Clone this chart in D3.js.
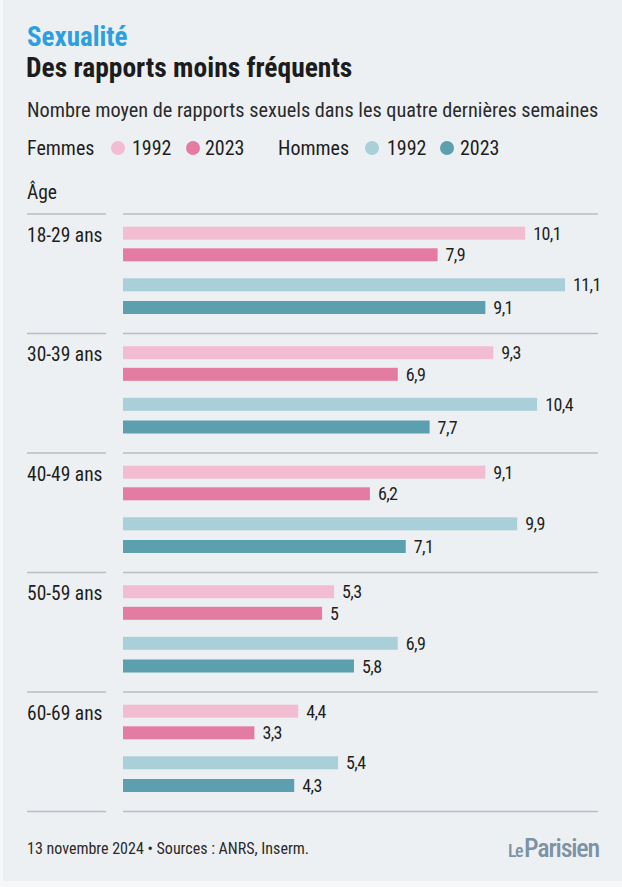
<!DOCTYPE html>
<html lang="fr">
<head>
<meta charset="utf-8">
<script src="https://cdn.jsdelivr.net/npm/d3@7"></script>
<style>
  html, body { margin: 0; padding: 0; background: #f6f7f9; }
  svg { display: block; }
  text { font-family: "Roboto Condensed", "Liberation Sans Narrow", "DejaVu Sans Condensed", sans-serif; fill: #1e1e1e; }
</style>
</head>
<body>
<div id="chart"></div>
<script>
// Données (nombre moyen de rapports sur les 4 dernières semaines)
const ages = ["18-29 ans", "30-39 ans", "40-49 ans", "50-59 ans", "60-69 ans"];
const femmes1992 = [10.1, 9.3, 9.1, 5.3, 4.4];
const femmes2023 = [7.9, 6.9, 6.2, 5, 3.3];
const hommes1992 = [11.1, 10.4, 9.9, 6.9, 5.4];
const hommes2023 = [9.1, 7.7, 7.1, 5.8, 4.3];
const seriesNames = ["Femmes 1992", "Femmes 2023", "Hommes 1992", "Hommes 2023"];
const seriesColors = ["#f3bdd1", "#e47ba0", "#a9cfd8", "#5c9fae"];

const width = 622, height = 887;
const svg = d3.select("#chart").append("svg")
    .attr("width", width)
    .attr("height", height);

// fond de la carte
svg.append("rect")
    .attr("x", 3).attr("y", 0)
    .attr("width", width - 3).attr("height", 881)
    .attr("fill", "#edf0f3");

// Titres
svg.append("text").attr("x", 27).attr("y", 46)
    .text("Sexualité")
    .style("font-size", "27px").style("font-weight", "700").style("fill", "#2b9fe0");
svg.append("text").attr("x", 26).attr("y", 77)
    .text("Des rapports moins fréquents")
    .style("font-size", "27.5px").style("font-weight", "700").style("fill", "#1c1c1c");
svg.append("text").attr("x", 27).attr("y", 117)
    .text("Nombre moyen de rapports sexuels dans les quatre dernières semaines")
    .style("font-size", "20.3px").style("fill", "#2a2a2a");

// Légende
const legend = svg.append("g").style("font-size", "20px");
legend.append("text").attr("x", 27).attr("y", 155).text("Femmes");
legend.append("text").attr("x", 278).attr("y", 155).text("Hommes");
const legendItems = [
    { cx: 118, tx: 132, label: "1992", color: seriesColors[0] },
    { cx: 193, tx: 205, label: "2023", color: seriesColors[1] },
    { cx: 372, tx: 387, label: "1992", color: seriesColors[2] },
    { cx: 447, tx: 460, label: "2023", color: seriesColors[3] }
];
legendItems.forEach(d => {
    legend.append("circle").attr("cx", d.cx).attr("cy", 148).attr("r", 7).attr("fill", d.color);
    legend.append("text").attr("x", d.tx).attr("y", 155).text(d.label);
});

svg.append("text").attr("x", 27).attr("y", 199)
    .text("Âge").style("font-size", "19.5px");

// Échelles
const x = d3.scaleLinear().domain([0, 11.1]).range([123, 565]);
const y = d3.scaleBand().domain(ages).range([214, 811.5]);
const inner = d3.scaleOrdinal().domain(seriesNames).range([12.7, 34.3, 64.3, 87]);
const barH = 13;

const fmt = v => String(v).replace(".", ",");

const rows = ages.map((age, i) => ({
    age,
    values: [femmes1992[i], femmes2023[i], hommes1992[i], hommes2023[i]]
        .map((v, j) => ({ name: seriesNames[j], value: v, color: seriesColors[j] }))
}));

// Séparateurs
const seps = ages.map(a => y(a)).concat([y.range()[1]]);
svg.append("g").selectAll("g")
    .data(seps)
    .join("g")
    .each(function(yy) {
        const g = d3.select(this);
        g.append("line").attr("x1", 27).attr("x2", 106).attr("y1", yy).attr("y2", yy);
        g.append("line").attr("x1", 123).attr("x2", 598).attr("y1", yy).attr("y2", yy);
    })
    .selectAll("line")
    .attr("stroke", "#b8bdc2").attr("stroke-width", 1.3);

const group = svg.append("g").selectAll("g")
    .data(rows)
    .join("g")
    .attr("transform", d => `translate(0,${y(d.age)})`);

group.append("text")
    .attr("x", 27).attr("y", 27.5)
    .text(d => d.age)
    .style("font-size", "19.5px");

group.selectAll("rect")
    .data(d => d.values)
    .join("rect")
    .attr("x", x(0))
    .attr("y", d => inner(d.name))
    .attr("width", d => x(d.value) - x(0))
    .attr("height", barH)
    .attr("fill", d => d.color);

group.selectAll("text.val")
    .data(d => d.values)
    .join("text")
    .attr("class", "val")
    .attr("x", d => x(d.value) + 8)
    .attr("y", d => inner(d.name) + barH / 2 + 6.5)
    .text(d => fmt(d.value))
    .style("font-size", "18px")
    .style("letter-spacing", "-0.6px");

// Pied
svg.append("text").attr("x", 27).attr("y", 854)
    .text("13 novembre 2024 • Sources : ANRS, Inserm.")
    .style("font-size", "16px").style("fill", "#2a2a2a");

const logo = svg.append("text").attr("x", 599).attr("y", 857)
    .attr("text-anchor", "end")
    .style("font-weight", "500").style("fill", "#7d92a5");
logo.append("tspan").text("Le").style("font-size", "18px").style("letter-spacing", "-1.5px");
logo.append("tspan").text("Parisien").attr("dx", 2).style("font-size", "26px").style("letter-spacing", "-1.2px");
</script>
</body>
</html>
